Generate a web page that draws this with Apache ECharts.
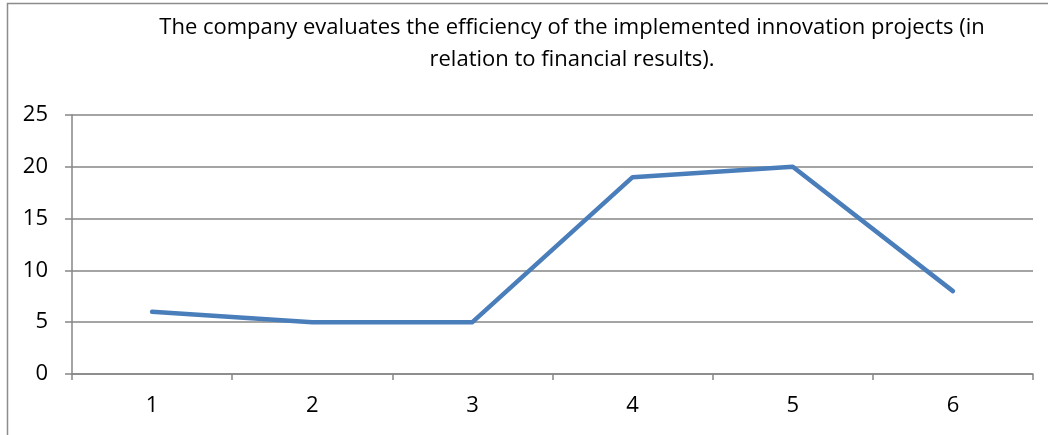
<!DOCTYPE html>
<html><head><meta charset="utf-8">
<script src="https://cdn.jsdelivr.net/npm/echarts@6/dist/echarts.min.js"></script>
<style>html,body{margin:0;padding:0;background:#fff}#c{width:1048px;height:435px}</style>
</head><body><div id="c"></div>
<script>
const categories = ['1','2','3','4','5','6'];
const values = [6,5,5,19,20,8];
const titleLines = 'The company evaluates the efficiency of the implemented innovation projects (in\nrelation to financial results).';
const yTicks = {min:0, max:25, interval:5};
const FONT = '"Open Sans", "Noto Sans", sans-serif';
const chart = echarts.init(document.getElementById('c'), null, {renderer:'canvas'});
chart.setOption({
  animation:false,
  backgroundColor:'#fff',
  graphic:[{type:'rect', shape:{x:7.5,y:3.5,width:1060,height:460}, style:{fill:'none', stroke:'#8c8c8c', lineWidth:1.5}, silent:true}],
  title:{text:titleLines, left:567, top:7, textAlign:'center',
    textStyle:{fontFamily:FONT, fontSize:22, fontWeight:'normal', color:'#000', lineHeight:32}},
  grid:{left:72, right:15, top:115, bottom:61, containLabel:false},
  xAxis:{type:'category', data:categories, boundaryGap:true,
    axisLine:{lineStyle:{color:'#868686', width:1.5}},
    axisTick:{show:true, length:6, interval:0, lineStyle:{color:'#868686', width:1.5}},
    axisLabel:{fontFamily:FONT, fontSize:22, color:'#000', margin:21},
    splitLine:{show:false}},
  yAxis:{type:'value', min:yTicks.min, max:yTicks.max, interval:yTicks.interval,
    axisLine:{show:true, lineStyle:{color:'#868686', width:1.5}},
    axisTick:{show:true, length:7, lineStyle:{color:'#868686', width:1.5}},
    axisLabel:{fontFamily:FONT, fontSize:22, color:'#000', margin:24},
    splitLine:{show:true, lineStyle:{color:'#868686', width:1.5}}},
  series:[{type:'line', data:values, symbol:'none', lineStyle:{color:'#4a7ebb', width:4.5, cap:'round', join:'round'}}]
});
</script></body></html>
